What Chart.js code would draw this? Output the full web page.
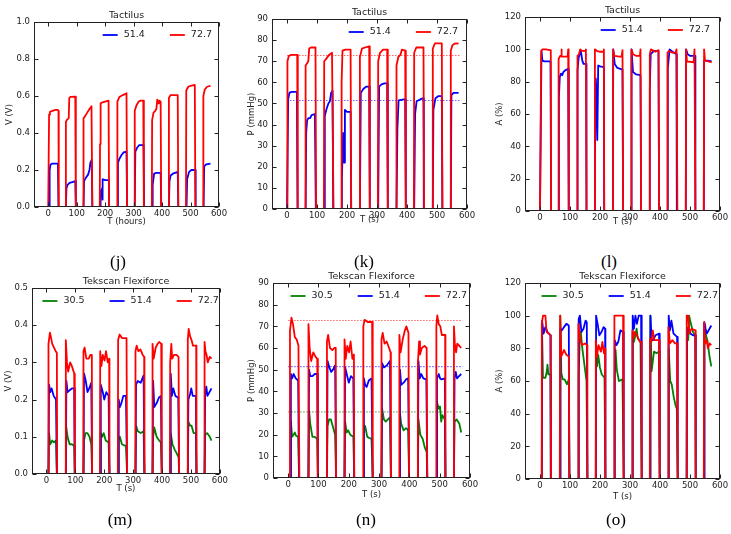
<!DOCTYPE html>
<html>
<head>
<meta charset="utf-8">
<script src="https://cdn.jsdelivr.net/npm/chart.js@4.4.1/dist/chart.umd.min.js"></script>
<style>
body { margin: 0; background: #fff; }
#fig { position: relative; width: 731px; height: 534px; overflow: hidden; font-family: "DejaVu Sans", sans-serif; }
canvas { position: absolute; }
.title { position: absolute; font-size: 9.5px; line-height: 1; color: #222; transform: translate(-50%, -50%); white-space: nowrap; }
.tag { position: absolute; font-family: "Liberation Serif", serif; font-size: 17px; line-height: 1; color: #000; transform: translate(-50%, -50%); }
</style>
</head>
<body>
<div id="fig"></div>
<script>
// =====================================
// DATA
// =====================================

const xTicks = [0, 100, 200, 300, 400, 500, 600];
const loadLabels = ["30.5", "51.4", "72.7"];
const refLevels = [30.5, 51.4, 72.7];
const refSpan = [0, 575];

// Tactilus - voltage (V)
const tactVoltBlue = [[0,0],[3,0],[5,0.2],[8,0.23],[15,0.235],[34,0.235],[36,0],
  [62,0],[64,0.1],[68,0.12],[75,0.13],[85,0.135],[95,0.14],[97,0],
  [124,0],[126,0.14],[133,0.16],[140,0.175],[145,0.2],[148,0.24],[153,0.255],[155,0],
  [182,0],[184,0.09],[187,0.06],[189,0.1],[190,0.04],[192,0.15],[200,0.145],[213,0.145],[214,0],
  [243,0],[245,0.24],[250,0.26],[257,0.28],[265,0.295],[275,0.3],[277,0],
  [304,0],[306,0.3],[312,0.32],[320,0.335],[335,0.335],[337,0],
  [365,0],[367,0.12],[372,0.18],[380,0.185],[395,0.185],[397,0],
  [424,0],[426,0.14],[430,0.17],[438,0.18],[455,0.19],[457,0],
  [486,0],[488,0.15],[495,0.19],[503,0.2],[517,0.2],[518,0],
  [546,0],[548,0.22],[555,0.23],[570,0.235]];
const tactVoltRed = [[0,0],[2,0],[3,0.5],[6,0.515],[15,0.52],[25,0.525],[34,0.525],[36,0.52],[37,0],
  [61,0],[62,0.46],[65,0.47],[72,0.48],[74,0.59],[78,0.595],[95,0.597],[97,0],
  [123,0],[124,0.48],[129,0.49],[137,0.51],[145,0.53],[152,0.545],[155,0],
  [181,0],[182,0.34],[184,0.56],[190,0.565],[200,0.57],[212,0.575],[214,0],
  [242,0],[243,0.57],[250,0.595],[262,0.605],[270,0.61],[275,0.615],[277,0],
  [303,0],[304,0.52],[310,0.55],[318,0.57],[325,0.575],[334,0.575],[336,0],
  [364,0],[365,0.47],[370,0.51],[376,0.52],[380,0.53],[383,0.58],[386,0.56],[389,0.575],[395,0.57],[397,0],
  [423,0],[424,0.59],[430,0.605],[455,0.605],[457,0],
  [484,0],[485,0.63],[492,0.65],[500,0.655],[515,0.66],[517,0],
  [544,0],[545,0.6],[550,0.635],[558,0.65],[570,0.655]];

// Tactilus - pressure (mmHg)
const tactPresBlue = [[0,0],[2,0],[4,52],[8,55],[15,55.5],[33,55.5],[35,0],
  [62,0],[64,36],[67,42],[71,43],[77,43],[82,44.5],[93,45],[96,0],
  [124,0],[126,44],[131,47],[138,50],[143,51],[147,55],[152,56],[154,0],
  [182,0],[183,14],[187,36],[190,22],[193,47],[200,46],[212,46],[214,0],
  [243,0],[246,55],[255,57],[265,58],[274,58],[276,0],
  [304,0],[307,58],[315,59],[325,59.5],[334,59.5],[336,0],
  [365,0],[368,38],[372,51.5],[394,52],[396,0],
  [424,0],[427,45],[432,51],[445,52],[455,52.5],[456,0],
  [486,0],[488,47],[495,52.5],[505,53.5],[516,53.5],[518,0],
  [546,0],[548,54],[555,55],[572,55]];
const tactPresRed = [[0,0],[1,0],[2,70],[6,72.5],[15,73],[34,73],[36,0],
  [61,0],[62,68],[67,69],[71,70],[74,76],[80,76.5],[95,76.5],[97,0],
  [123,0],[124,70],[130,71],[140,73],[150,74],[153,74],[155,0],
  [181,0],[182,60],[185,75],[195,75.5],[212,75.5],[214,0],
  [242,0],[243,72],[250,76],[260,76.5],[274,77],[276,0],
  [303,0],[304,70],[310,74],[320,75.5],[334,75.5],[336,0],
  [364,0],[365,68],[371,72],[378,73],[383,75.5],[394,75],[396,0],
  [423,0],[424,74],[431,76.5],[455,76.5],[457,0],
  [485,0],[486,76],[493,78.5],[516,78.5],[518,0],
  [545,0],[546,75],[551,77.5],[558,78.3],[572,78.5]];

// Tactilus - area (%)
const tactAreaBlue = [[0,0],[3,0],[5,99],[8,93],[15,92.5],[35,92.5],[37,0],
  [62,0],[63,70],[66,83],[70,85],[74,84],[78,86],[84,87],[94,88],[96,0],
  [124,0],[125,87],[129,95],[136,99],[141,93],[145,91],[154,91],[155,0],
  [182,0],[183,28],[186,82],[189,70],[191,44],[194,90],[200,89.5],[213,89],[214,0],
  [243,0],[244,100],[249,91],[258,88.5],[275,87.5],[277,0],
  [304,0],[305,100],[310,86],[320,84.5],[335,84],[337,0],
  [365,0],[366,75],[369,97],[380,99],[395,99],[397,0],
  [424,0],[426,88],[432,100],[445,98],[455,97],[456,0],
  [486,0],[487,100],[492,97],[500,96],[517,96],[518,0],
  [546,0],[547,93],[560,93],[572,92.5]];
const tactAreaRed = [[0,0],[3,0],[4,99],[8,100],[20,100],[33,99.5],[36,99.5],[37,0],
  [61,0],[62,94],[67,96],[70,96],[71,100],[73,95.5],[92,95.5],[94,100],[95,100],[96,0],
  [124,0],[125,96],[130,97],[134,100],[140,99],[150,99],[153,100],[155,0],
  [182,0],[183,100],[190,99],[200,98.5],[211,98.5],[213,100],[214,0],
  [243,0],[244,100],[248,96],[265,95.5],[272,95.5],[275,99.5],[277,0],
  [304,0],[305,100],[310,97],[320,96],[333,96],[335,100],[337,0],
  [365,0],[366,97],[370,100],[385,98.5],[395,99.5],[397,0],
  [424,0],[425,98],[430,99],[440,98],[452,98],[455,100],[458,0],
  [486,0],[487,100],[490,92.5],[512,92],[515,100],[518,0],
  [546,0],[547,100],[550,93],[562,92.5],[572,92]];

// Tekscan Flexiforce - voltage (V)
const flexVoltGreen = [[0,0],[7,0],[9,0.11],[13,0.08],[20,0.09],[26,0.085],[33,0.09],[36,0],
  [67,0],[69,0.125],[73,0.1],[80,0.08],[88,0.08],[96,0.075],[98,0],
  [128,0],[130,0.09],[135,0.11],[142,0.11],[149,0.1],[155,0.08],[158,0],
  [186,0],[188,0.11],[193,0.1],[198,0.11],[205,0.09],[215,0.085],[218,0],
  [248,0],[250,0.09],[254,0.1],[261,0.08],[275,0.075],[279,0],
  [308,0],[310,0.13],[316,0.115],[326,0.11],[336,0.115],[339,0],
  [367,0],[369,0.1],[373,0.125],[381,0.1],[390,0.09],[396,0.085],[399,0],
  [428,0],[430,0.11],[436,0.08],[444,0.065],[451,0.055],[457,0.045],[459,0],
  [489,0],[491,0.14],[497,0.13],[502,0.13],[509,0.11],[517,0.11],[519,0],
  [547,0],[549,0.105],[556,0.11],[565,0.1],[571,0.09]];
const flexVoltBlue = [[0,0],[7,0],[9,0.24],[13,0.22],[18,0.23],[25,0.21],[33,0.2],[36,0],
  [67,0],[69,0.25],[73,0.22],[80,0.225],[88,0.23],[96,0.23],[98,0],
  [128,0],[130,0.27],[136,0.25],[142,0.22],[148,0.23],[155,0.245],[158,0],
  [186,0],[188,0.24],[195,0.22],[200,0.2],[207,0.22],[215,0.21],[218,0],
  [248,0],[250,0.2],[254,0.18],[259,0.19],[266,0.21],[275,0.21],[279,0],
  [308,0],[310,0.24],[316,0.25],[326,0.245],[336,0.265],[339,0],
  [367,0],[369,0.25],[373,0.18],[381,0.19],[389,0.205],[396,0.21],[399,0],
  [428,0],[430,0.27],[434,0.21],[439,0.23],[446,0.21],[456,0.205],[459,0],
  [489,0],[491,0.2],[497,0.215],[501,0.23],[506,0.21],[517,0.21],[519,0],
  [547,0],[549,0.21],[553,0.235],[557,0.21],[564,0.22],[571,0.23]];
const flexVoltRed = [[0,0],[6,0],[7,0.35],[12,0.38],[15,0.37],[20,0.35],[26,0.34],[32,0.33],[36,0.325],[37,0],
  [66,0],[67,0.36],[71,0.3],[75,0.275],[82,0.3],[88,0.29],[96,0.27],[98,0],
  [127,0],[128,0.33],[132,0.34],[138,0.31],[146,0.31],[152,0.32],[157,0.32],[158,0],
  [185,0],[186,0.33],[190,0.29],[195,0.32],[201,0.305],[206,0.33],[212,0.3],[217,0.31],[218,0],
  [247,0],[248,0.36],[253,0.375],[262,0.365],[277,0.365],[279,0],
  [307,0],[308,0.33],[312,0.345],[318,0.33],[325,0.335],[333,0.32],[338,0.315],[339,0],
  [366,0],[367,0.35],[371,0.31],[378,0.34],[385,0.35],[390,0.355],[397,0.35],[399,0],
  [427,0],[428,0.3],[432,0.35],[435,0.31],[441,0.32],[450,0.32],[457,0.315],[459,0],
  [488,0],[489,0.36],[492,0.39],[497,0.37],[502,0.36],[507,0.345],[518,0.345],[519,0],
  [546,0],[547,0.355],[550,0.33],[554,0.32],[558,0.3],[565,0.315],[571,0.31]];

// Tekscan Flexiforce - pressure (mmHg)
const flexPresGreen = [[0,0],[7,0],[9,26],[13,19],[18,20],[22,21],[26,19.5],[33,19],[36,0],
  [67,0],[69,31],[73,25],[80,19],[88,19],[96,18],[98,0],
  [128,0],[130,24],[135,27],[141,27],[149,23],[155,20],[158,0],
  [186,0],[188,26],[193,21],[198,22],[205,20],[215,19],[218,0],
  [248,0],[250,23],[254,24],[261,19],[275,18],[279,0],
  [308,0],[310,32],[316,27],[322,26],[336,28],[339,0],
  [367,0],[369,30],[373,25],[381,22],[389,23],[396,22],[399,0],
  [428,0],[430,27],[436,20],[444,18],[451,14],[457,12],[459,0],
  [489,0],[491,35],[497,32],[501,33],[505,26],[509,29],[517,27],[519,0],
  [547,0],[549,26],[556,27],[565,25],[571,21]];
const flexPresBlue = [[0,0],[7,0],[9,48],[13,46],[18,48],[25,46],[33,45],[36,0],
  [67,0],[69,50],[73,47],[80,47],[88,48],[96,48],[98,0],
  [128,0],[130,54],[136,51],[142,49],[148,50],[155,52],[158,0],
  [186,0],[188,51],[195,47],[200,44],[207,47],[215,46],[218,0],
  [248,0],[250,46],[254,43],[259,42],[266,45],[275,46],[279,0],
  [308,0],[310,53],[316,51],[326,52],[336,54],[339,0],
  [367,0],[369,50],[373,43],[381,44],[389,45.5],[396,46],[399,0],
  [428,0],[430,54],[434,46],[439,48],[446,46],[456,45.5],[459,0],
  [489,0],[491,46],[497,48],[501,46],[506,45.5],[517,46],[519,0],
  [547,0],[549,46],[553,49],[557,46],[564,47],[571,48]];
const flexPresRed = [[0,0],[5,0],[6,68],[11,74],[16,71],[22,65],[28,64],[34,61],[37,0],
  [66,0],[67,71],[71,60],[76,54],[83,58],[90,56],[96,55],[98,0],
  [127,0],[128,63],[132,66],[138,60],[146,59],[152,60],[157,60],[158,0],
  [185,0],[186,64],[190,55],[195,61],[201,58],[206,63],[212,55],[217,57],[218,0],
  [247,0],[248,70],[252,73],[262,72],[277,72],[279,0],
  [307,0],[308,64],[312,67],[318,62],[325,63],[333,60],[338,58],[339,0],
  [366,0],[367,66],[371,58],[378,64],[385,68],[390,70],[397,67],[399,0],
  [427,0],[428,53],[432,63],[435,57],[441,60],[450,61],[457,60],[459,0],
  [488,0],[489,70],[492,75],[497,71],[502,70],[507,66],[518,66],[519,0],
  [546,0],[547,70],[550,62],[554,58],[558,62],[565,61],[571,60]];

// Tekscan Flexiforce - area (%)
const flexAreaGreen = [[0,0],[6,0],[7,90],[10,62],[18,62],[22,65],[25,70],[28,64],[35,64],[36,0],
  [67,0],[68,100],[71,65],[76,61],[82,61],[90,58],[96,61],[98,0],
  [128,0],[129,64],[133,88],[136,90],[141,80],[148,70],[155,60],[158,0],
  [186,0],[187,80],[190,69],[194,76],[200,68],[206,64],[215,62],[218,0],
  [248,0],[249,64],[252,79],[256,67],[263,60],[275,61],[279,0],
  [308,0],[309,89],[313,84],[318,88],[322,92],[326,86],[335,84],[339,0],
  [367,0],[368,100],[372,66],[376,72],[380,78],[388,77],[397,78],[399,0],
  [428,0],[429,80],[434,60],[439,58],[446,50],[452,45],[456,43],[459,0],
  [489,0],[490,93],[494,85],[497,100],[503,95],[510,90],[518,88],[519,0],
  [547,0],[548,95],[553,88],[558,85],[565,75],[571,69]];
const flexAreaBlue = [[0,0],[6,0],[7,97],[12,89],[18,93],[25,90],[35,88],[36,0],
  [67,0],[68,92],[73,91],[80,93],[88,95],[96,94],[98,0],
  [128,0],[129,98],[133,100],[138,90],[145,92],[152,97],[156,96],[158,0],
  [186,0],[187,100],[192,95],[198,88],[205,90],[212,93],[217,92],[218,0],
  [248,0],[249,85],[255,82],[261,84],[268,91],[277,90],[279,0],
  [308,0],[309,100],[313,92],[318,100],[323,95],[329,100],[337,100],[339,0],
  [367,0],[368,100],[372,85],[377,85],[385,88],[397,89],[399,0],
  [428,0],[429,100],[433,91],[438,97],[445,89],[457,87],[459,0],
  [489,0],[490,90],[495,92],[502,89],[510,88],[518,88],[519,0],
  [547,0],[548,96],[552,92],[556,89],[565,92],[571,94]];
const flexAreaRed = [[0,0],[5,0],[6,95],[10,100],[18,100],[22,90],[30,89],[35,88],[37,0],
  [66,0],[67,100],[71,75],[80,79],[88,76],[96,75],[98,0],
  [127,0],[128,95],[131,90],[135,85],[140,82],[150,83],[157,82],[158,0],
  [185,0],[186,85],[190,75],[195,82],[203,78],[208,84],[213,77],[217,80],[218,0],
  [247,0],[248,100],[262,100],[277,100],[279,0],
  [307,0],[308,91],[311,86],[316,90],[323,88],[333,84],[338,84],[339,0],
  [366,0],[367,86],[371,84],[376,91],[381,85],[397,85],[399,0],
  [427,0],[428,93],[433,83],[441,85],[450,83],[457,83],[459,0],
  [488,0],[489,100],[494,100],[498,89],[505,92],[518,91],[519,0],
  [546,0],[547,96],[550,83],[555,85],[560,80],[565,83],[571,82]];

// =====================================
// LAYOUT (pixels in the 731x534 figure)
// =====================================

const colors = ["#008000", "#0000ff", "#ff0000"];
const refColors = ["rgba(0,128,0,0.6)", "rgba(0,0,255,0.6)", "rgba(255,0,0,0.6)"];

const panels = [
  { tag: "(j)", tagPos: [118, 261], title: "Tactilus", yTitle: "V (V)", xTitle: "T (hours)",
    canvas: [0, 0, 230, 229], plot: [34, 22, 219, 207], yMax: 1, yStep: 0.2, dec: 1, yTitlePad: 5, legendRight: 7,
    series: [null, tactVoltBlue, tactVoltRed], refs: false },
  { tag: "(k)", tagPos: [364, 261], title: "Tactilus", yTitle: "P (mmHg)", xTitle: "T (s)",
    canvas: [240, 0, 245, 227], plot: [272, 19, 467, 209], yMax: 90, yStep: 10, dec: 0, yTitlePad: 7, legendRight: 9,
    series: [null, tactPresBlue, tactPresRed], refs: true },
  { tag: "(l)", tagPos: [609, 261], title: "Tactilus", yTitle: "A (%)", xTitle: "T (s)",
    canvas: [490, 0, 241, 229], plot: [525, 17, 720, 211], yMax: 120, yStep: 20, dec: 0, yTitlePad: 5, legendRight: 10,
    series: [null, tactAreaBlue, tactAreaRed], refs: false },
  { tag: "(m)", tagPos: [120, 519], title: "Tekscan Flexiforce", yTitle: "V (V)", xTitle: "T (s)",
    canvas: [0, 268, 230, 228], plot: [32, 288, 220, 474], yMax: 0.5, yStep: 0.1, dec: 1, yTitlePad: 4, legendRight: 1,
    series: [flexVoltGreen, flexVoltBlue, flexVoltRed], refs: false },
  { tag: "(n)", tagPos: [366, 519], title: "Tekscan Flexiforce", yTitle: "P (mmHg)", xTitle: "T (s)",
    canvas: [240, 268, 245, 234], plot: [273, 283, 470, 478], yMax: 90, yStep: 10, dec: 0, yTitlePad: 7, legendRight: 3,
    series: [flexPresGreen, flexPresBlue, flexPresRed], refs: true },
  { tag: "(o)", tagPos: [616, 519], title: "Tekscan Flexiforce", yTitle: "A (%)", xTitle: "T (s)",
    canvas: [490, 268, 241, 236], plot: [525, 283, 720, 479], yMax: 120, yStep: 20, dec: 0, yTitlePad: 5, legendRight: 2,
    series: [flexAreaGreen, flexAreaBlue, flexAreaRed], refs: false }
];

// =====================================
// FRAME, INWARD TICKS AND LEGEND
// =====================================

const mplFrame = {
  id: "mplFrame",
  afterDatasetsDraw(chart, args, opts) {
    const { ctx, chartArea: a, scales: { x, y } } = chart;
    ctx.save();
    ctx.strokeStyle = "#222";
    ctx.lineWidth = 1;
    const l = Math.round(a.left) + 0.5, r = Math.round(a.right) - 0.5;
    const t = Math.round(a.top) + 0.5, b = Math.round(a.bottom) - 0.5;
    ctx.strokeRect(l, t, r - l, b - t);

    ctx.beginPath();
    x.ticks.forEach(tk => {
      const px = Math.round(x.getPixelForValue(tk.value)) + 0.5;
      ctx.moveTo(px, b); ctx.lineTo(px, b - 4);
      ctx.moveTo(px, t); ctx.lineTo(px, t + 4);
    });
    y.ticks.forEach(tk => {
      const py = Math.round(y.getPixelForValue(tk.value)) + 0.5;
      ctx.moveTo(l, py); ctx.lineTo(l + 4, py);
      ctx.moveTo(r, py); ctx.lineTo(r - 4, py);
    });
    ctx.stroke();

    // legend, right to left
    ctx.font = "9.5px 'DejaVu Sans'";
    ctx.textBaseline = "middle";
    ctx.fillStyle = "#222";
    const cy = a.top + 13;
    let cx = a.right - opts.right;
    for (let i = opts.items.length - 1; i >= 0; i--) {
      const it = opts.items[i];
      const w = ctx.measureText(it.text).width;
      ctx.fillText(it.text, cx - w, cy);
      ctx.beginPath();
      ctx.strokeStyle = it.color;
      ctx.lineWidth = 1.8;
      ctx.moveTo(cx - w - 6 - 15, cy);
      ctx.lineTo(cx - w - 6, cy);
      ctx.stroke();
      cx = cx - w - 6 - 15 - 25;
    }
    ctx.restore();
  }
};

// =====================================
// BUILD CHARTS
// =====================================

const fig = document.getElementById("fig");
const tickFont = { family: "'DejaVu Sans'", size: 8.5 };

panels.forEach(p => {

  const [cx, cy, cw, ch] = p.canvas;
  const [L, T, R, B] = p.plot;

  const canvas = document.createElement("canvas");
  canvas.width = cw;
  canvas.height = ch;
  canvas.style.left = cx + "px";
  canvas.style.top = cy + "px";
  fig.appendChild(canvas);

  const title = document.createElement("div");
  title.className = "title";
  title.textContent = p.title;
  title.style.left = (L + R) / 2 + "px";
  title.style.top = (T - 7) + "px";
  fig.appendChild(title);

  const tag = document.createElement("div");
  tag.className = "tag";
  tag.textContent = p.tag;
  tag.style.left = p.tagPos[0] + "px";
  tag.style.top = p.tagPos[1] + "px";
  fig.appendChild(tag);

  const datasets = [];
  const legendItems = [];

  // red first so it is drawn on top
  for (let i = 2; i >= 0; i--) {
    if (!p.series[i]) continue;
    datasets.push({
      label: loadLabels[i],
      data: p.series[i],
      borderColor: colors[i],
      borderWidth: 1.8,
      borderJoinStyle: "round",
      pointRadius: 0,
      tension: 0,
      fill: false
    });
  }
  for (let i = 0; i < 3; i++) {
    if (p.series[i]) legendItems.push({ text: loadLabels[i], color: colors[i] });
  }

  if (p.refs) {
    for (let i = 2; i >= 0; i--) {
      if (!p.series[i]) continue;
      datasets.push({
        label: "ref " + loadLabels[i],
        data: refSpan.map(t => [t, refLevels[i]]),
        borderColor: refColors[i],
        borderWidth: 1.2,
        borderDash: [1.5, 1.5],
        pointRadius: 0,
        fill: false
      });
    }
  }

  new Chart(canvas, {
    type: "line",
    data: { datasets },
    plugins: [mplFrame],
    options: {
      responsive: false,
      animation: false,
      devicePixelRatio: 1,
      layout: { padding: { left: 0, top: T - cy, right: cx + cw - R, bottom: 0 } },
      plugins: {
        legend: { display: false },
        tooltip: { enabled: false },
        mplFrame: { items: legendItems, right: p.legendRight }
      },
      scales: {
        x: {
          type: "linear",
          min: -50,
          max: 600,
          afterBuildTicks: s => { s.ticks = xTicks.map(v => ({ value: v })); },
          afterFit: s => { s.height = cy + ch - B; },
          grid: { display: false, drawTicks: false },
          border: { display: false },
          ticks: { font: tickFont, color: "#222", padding: 2, maxRotation: 0 },
          title: { display: true, text: p.xTitle, font: tickFont, color: "#222", padding: { top: 0, bottom: 2 } }
        },
        y: {
          min: 0,
          max: p.yMax,
          afterFit: s => { s.width = L - cx; },
          grid: { display: false, drawTicks: false },
          border: { display: false },
          ticks: { stepSize: p.yStep, font: tickFont, color: "#222", padding: 4,
                   callback: v => Number(v).toFixed(p.dec) },
          title: { display: true, text: p.yTitle, font: tickFont, color: "#222", padding: { top: p.yTitlePad, bottom: 0 } }
        }
      }
    }
  });

});
</script>
</body>
</html>
